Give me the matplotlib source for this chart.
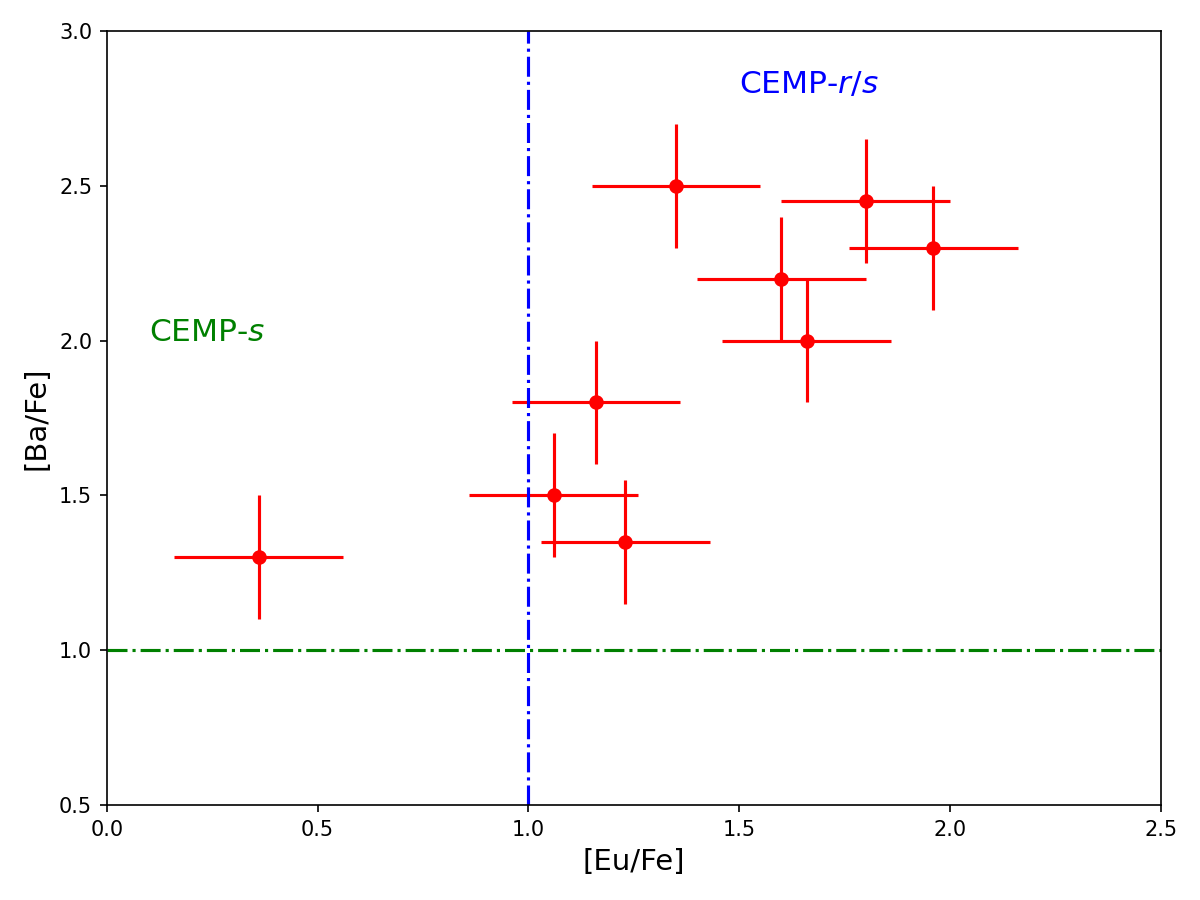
import matplotlib
matplotlib.use("Agg")
import matplotlib.pyplot as plt

# datos
eu_fe = [0.36, 1.06, 1.16, 1.23, 1.35, 1.60, 1.66, 1.80, 1.96]
ba_fe = [1.30, 1.50, 1.80, 1.35, 2.50, 2.20, 2.00, 2.45, 2.30]
eu_err = [0.2, 0.2, 0.2, 0.2, 0.2, 0.2, 0.2, 0.2, 0.2]
ba_err = [0.2, 0.2, 0.2, 0.2, 0.2, 0.2, 0.2, 0.2, 0.2]

fig, ax = plt.subplots(figsize=(8, 6), dpi=150)

ax.errorbar(eu_fe, ba_fe, xerr=eu_err, yerr=ba_err, fmt='o', color='red',
            ms=6, elinewidth=1.5, capsize=0)

# lineas de separacion
ax.axvline(1.0, color='blue', ls='-.', lw=1.5)
ax.axhline(1.0, color='green', ls='-.', lw=1.5)

ax.text(0.1, 2.0, 'CEMP-$s$', color='green', fontsize=15)
ax.text(1.5, 2.8, 'CEMP-$r/s$', color='blue', fontsize=15)

ax.set_xlim(0, 2.5)
ax.set_ylim(0.5, 3.0)
ax.set_xlabel('[Eu/Fe]', fontsize=14)
ax.set_ylabel('[Ba/Fe]', fontsize=14)

fig.subplots_adjust(left=0.089, right=0.9675, top=0.9656, bottom=0.1056)
fig.savefig('out.png', dpi=150)
